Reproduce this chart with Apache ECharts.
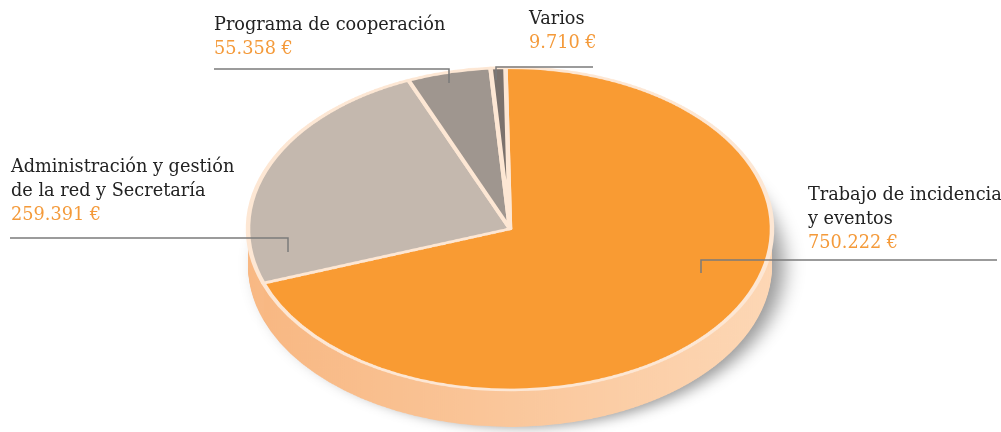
<!DOCTYPE html>
<html>
<head>
<meta charset="utf-8">
<script src="https://cdn.jsdelivr.net/npm/echarts@6/dist/echarts.min.js"></script>
<style>
  html, body { margin: 0; padding: 0; background: #fff; }
  #wrap { position: relative; width: 1001px; height: 432px; overflow: hidden; }
  #pie { position: absolute; left: 0; top: 0; width: 1001px; height: 702px;
         transform: scaleY(0.615); transform-origin: 0 0; }
  #labels { position: absolute; left: 0; top: 0; width: 1001px; height: 432px; }
</style>
</head>
<body>
<div id="wrap">
  <div id="pie"></div>
  <div id="labels"></div>
</div>
<script>
// data
const names = [
  "Trabajo de incidencia y eventos",
  "Administración y gestión de la red y Secretaría",
  "Programa de cooperación",
  "Varios"
];
const values = [750222, 259391, 55358, 9710];
const valueLabels = ["750.222 €", "259.391 €", "55.358 €", "9.710 €"];
const labelLines = [
  ["Trabajo de incidencia", "y eventos"],
  ["Administración y gestión", "de la red y Secretaría"],
  ["Programa de cooperación"],
  ["Varios"]
];
const sliceColors = ["#f99b33", "#c4b8ae", "#9f968f", "#7b726d"];

addEventListener("DOMContentLoaded", () => {
  const pieData = names.map((n, i) => ({ name: n, value: values[i] }));
  const cx = 510, cy = 372, r = 262, depth = 60;

  // side of the "cylinder": stacked copies of the pie, lowest first
  const sideFill = new echarts.graphic.LinearGradient(0, 0, 1, 0, [
    { offset: 0, color: "#f8b883" },
    { offset: 1, color: "#fdd7b5" }
  ]);
  const series = [];
  for (let off = depth; off > 0; off -= 2) {
    series.push({
      type: "pie",
      silent: true,
      animation: false,
      startAngle: 91,
      radius: [0, r],
      center: [cx, cy + off],
      label: { show: false },
      labelLine: { show: false },
      itemStyle: off === depth
        ? { color: sideFill, shadowBlur: 20, shadowOffsetX: 12, shadowColor: "rgba(0,0,0,0.4)" }
        : { color: sideFill },
      data: pieData
    });
  }
  // top face
  series.push({
    type: "pie",
    silent: true,
    animation: false,
    startAngle: 91,
    radius: [0, r],
    center: [cx, cy],
    label: { show: false },
    labelLine: { show: false },
    itemStyle: { borderColor: "#fde7d4", borderWidth: 4.5 },
    data: pieData.map((d, i) => ({ ...d, itemStyle: { color: sliceColors[i] } }))
  });

  const pieChart = echarts.init(document.getElementById("pie"));
  pieChart.setOption({ animation: false, series });

  // labels + leader lines (unscaled layer)
  const textFont = '17.7px "DejaVu Serif"';
  const labelPos = [
    { x: 808, y: 186, line: [[997, 260], [701, 260], [701, 273]] },
    { x: 11, y: 158, line: [[10, 238], [288, 238], [288, 252]] },
    { x: 214, y: 16, line: [[214, 69], [449, 69], [449, 83]] },
    { x: 529, y: 10, line: [[593, 67], [496, 67], [496, 80]] }
  ];
  const graphic = [];
  labelPos.forEach((p, i) => {
    labelLines[i].forEach((t, k) => {
      graphic.push({
        type: "text", x: p.x, y: p.y + k * 24,
        style: { text: t, font: textFont, fill: "#222222", verticalAlign: "top" }
      });
    });
    graphic.push({
      type: "text", x: p.x, y: p.y + labelLines[i].length * 24,
      style: { text: valueLabels[i], font: textFont, fill: "#f49a3a", verticalAlign: "top" }
    });
    graphic.push({
      type: "polyline",
      shape: { points: p.line },
      style: { stroke: "#7b7b7b", lineWidth: 1.5, fill: null }
    });
  });
  const labelChart = echarts.init(document.getElementById("labels"));
  labelChart.setOption({ animation: false, graphic });
});
</script>
</body>
</html>
